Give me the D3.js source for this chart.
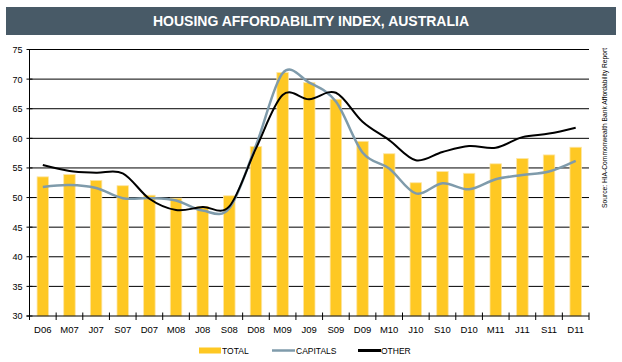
<!DOCTYPE html>
<html>
<head>
<meta charset="utf-8">
<script src="https://cdn.jsdelivr.net/npm/d3@7"></script>
<style>
  body { margin: 0; background: #fff; }
  svg { display: block; font-family: "Liberation Sans", Arial, sans-serif; }
</style>
</head>
<body>
<script>
const width = 622;
const height = 362;

// quarters, Dec 2006 to Dec 2011
const quarters = ['D06','M07','J07','S07','D07','M08','J08','S08','D08','M09','J09',
  'S09','D09','M10','J10','S10','D10','M11','J11','S11','D11'];
const total = [53.5, 53.9, 52.9, 52.0, 50.4, 49.9, 48.5, 50.3, 58.6, 71.1, 69.4,
  66.6, 59.5, 57.4, 52.5, 54.4, 54.1, 55.7, 56.6, 57.2, 58.5];
const capitals = [51.8, 52.1, 51.6, 49.9, 49.9, 49.5, 47.8, 48.2, 58.8, 71.0, 69.4,
  66.2, 57.6, 54.9, 50.7, 52.4, 51.4, 53.1, 53.8, 54.4, 56.2];
const other = [55.5, 54.5, 54.2, 54.1, 49.8, 47.9, 48.4, 48.5, 58.3, 67.3, 66.6,
  67.7, 62.8, 59.7, 56.3, 57.7, 58.7, 58.4, 60.2, 60.8, 61.8];
const yTicks = [30, 35, 40, 45, 50, 55, 60, 65, 70, 75];

const svg = d3.select('body')
  .append('svg')
  .attr('width', width)
  .attr('height', height);

// title banner
svg.append('rect')
  .attr('x', 6).attr('y', 7)
  .attr('width', 610).attr('height', 28)
  .attr('fill', '#485a67');
svg.append('text')
  .attr('x', 311).attr('y', 26)
  .attr('text-anchor', 'middle')
  .attr('fill', '#fff')
  .attr('font-weight', 'bold')
  .attr('font-size', 14)
  .text('HOUSING AFFORDABILITY INDEX, AUSTRALIA');

const plotL = 29.5, plotR = 589, plotT = 49.5, plotB = 316;

const x = d3.scaleBand().domain(quarters).range([plotL, plotR]);
const y = d3.scaleLinear().domain([30, 75]).range([plotB, plotT]);

// gridlines
svg.append('g')
  .selectAll('line')
  .data(yTicks.slice(1))
  .join('line')
  .attr('x1', plotL).attr('x2', plotR)
  .attr('y1', d => y(d)).attr('y2', d => y(d))
  .attr('stroke', '#000')
  .attr('stroke-width', 1);

// bars
const bw = 11.5;
svg.append('g')
  .selectAll('rect')
  .data(total)
  .join('rect')
  .attr('x', (d, i) => x(quarters[i]) + x.bandwidth() / 2 - bw / 2)
  .attr('y', d => y(d))
  .attr('width', bw)
  .attr('height', d => y(30) - y(d))
  .attr('fill', '#fec823')
  .attr('stroke', '#fde6a6')
  .attr('stroke-width', 0.8);

const line = d3.line()
  .x((d, i) => x(quarters[i]) + x.bandwidth() / 2)
  .y(d => y(d))
  .curve(d3.curveCardinal.tension(0));

svg.append('path')
  .datum(capitals)
  .attr('d', line)
  .attr('fill', 'none')
  .attr('stroke', '#7f9bab')
  .attr('stroke-width', 2.5);

svg.append('path')
  .datum(other)
  .attr('d', line)
  .attr('fill', 'none')
  .attr('stroke', '#000')
  .attr('stroke-width', 2);

// y axis
const yAxis = svg.append('g')
  .attr('transform', `translate(${plotL},0)`)
  .call(d3.axisLeft(y).tickValues(yTicks).tickSize(0).tickPadding(7));
yAxis.select('.domain').remove();
yAxis.selectAll('text').attr('font-size', 9).attr('fill', '#000')
  .attr('font-family', '"Liberation Sans", Arial, sans-serif');
svg.append('g')
  .selectAll('line')
  .data(yTicks)
  .join('line')
  .attr('x1', plotL - 3).attr('x2', plotL + 3)
  .attr('y1', d => y(d)).attr('y2', d => y(d))
  .attr('stroke', '#000');
svg.append('line')
  .attr('x1', plotL).attr('x2', plotL)
  .attr('y1', plotT).attr('y2', plotB + 0.5)
  .attr('stroke', '#000');

// x axis
svg.append('line')
  .attr('x1', plotL - 3).attr('x2', plotR)
  .attr('y1', plotB).attr('y2', plotB)
  .attr('stroke', '#000');
const bounds = quarters.map(q => x(q)).concat([plotR]);
svg.append('g')
  .selectAll('line')
  .data(bounds)
  .join('line')
  .attr('x1', d => d).attr('x2', d => d)
  .attr('y1', plotB - 3.5).attr('y2', plotB + 4)
  .attr('stroke', '#000');
svg.append('g')
  .selectAll('text')
  .data(quarters)
  .join('text')
  .attr('x', d => x(d) + x.bandwidth() / 2)
  .attr('y', 333)
  .attr('text-anchor', 'middle')
  .attr('font-size', 9.5)
  .text(d => d);

// source
svg.append('text')
  .attr('transform', 'translate(607,208) rotate(-90)')
  .attr('font-size', 6.7)
  .text('Source: HIA-Commonwealth Bank Affordability Report');

// legend
const lg = svg.append('g').attr('font-size', 8.5);
lg.append('rect').attr('x', 199).attr('y', 347.5).attr('width', 22).attr('height', 6).attr('fill', '#fec823');
lg.append('text').attr('x', 222).attr('y', 354).text('TOTAL');
lg.append('line').attr('x1', 272).attr('x2', 295).attr('y1', 350.5).attr('y2', 350.5)
  .attr('stroke', '#7f9bab').attr('stroke-width', 2.5);
lg.append('text').attr('x', 296).attr('y', 354).text('CAPITALS');
lg.append('line').attr('x1', 358).attr('x2', 381).attr('y1', 350.5).attr('y2', 350.5)
  .attr('stroke', '#000').attr('stroke-width', 3);
lg.append('text').attr('x', 381).attr('y', 354).text('OTHER');
</script>
</body>
</html>
